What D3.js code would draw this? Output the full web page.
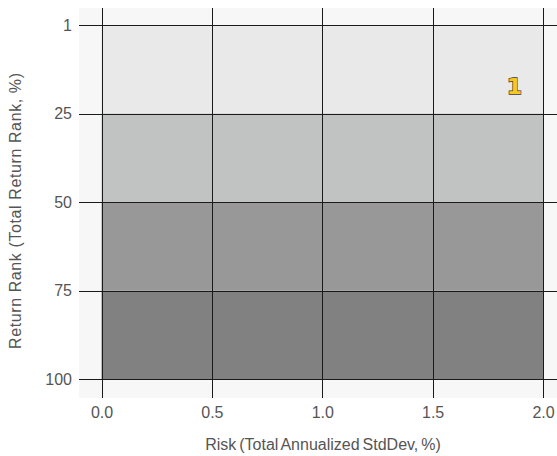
<!DOCTYPE html>
<html><head><meta charset="utf-8">
<script src="https://cdn.jsdelivr.net/npm/d3@7"></script>
<style>
html,body{margin:0;padding:0;background:#fff;}
svg{display:block;font-family:"Liberation Sans",Arial,sans-serif;}
</style></head>
<body>
<svg id="chart" width="557" height="456"></svg>
<script>
// Data
const xTickValues = [0, 0.5, 1.0, 1.5, 2.0];
const xTickLabels = ["0.0", "0.5", "1.0", "1.5", "2.0"];
const yTickValues = [0, 25, 50, 75, 100];
const yTickLabels = ["1", "25", "50", "75", "100"];
const bandStarts = [0, 25, 50, 75];
const bandEnds = [25, 50, 75, 100];
const bandColors = ["#e9e9e9", "#c1c3c2", "#989898", "#808180"];
const pointLabels = ["1"];
const pointRisk = [1.87];
const pointRank = [17.5];

const svg = d3.select("#chart");
const plotLeft = 79, plotTop = 8, plotBottom = 398, plotRight = 557;
const FONT = "'Liberation Sans', Arial, sans-serif";

const x = d3.scaleLinear().domain([0, 2]).range([101.5, 543]);
const y = d3.scaleLinear().domain([0, 100]).range([25, 379]);

// background
svg.append("rect").attr("x", plotLeft).attr("y", plotTop)
  .attr("width", plotRight - plotLeft).attr("height", plotBottom - plotTop)
  .attr("fill", "#f7f7f7");

// bands
svg.append("g").selectAll("rect").data(bandStarts).join("rect")
  .attr("x", x(0)).attr("width", x(2) - x(0))
  .attr("y", (d) => y(d)).attr("height", (d, i) => y(bandEnds[i]) - y(d))
  .attr("fill", (d, i) => bandColors[i]);

// x axis with grid
const xAxis = d3.axisBottom(x).tickValues(xTickValues)
  .tickFormat((d, i) => xTickLabels[i])
  .tickSize(-(plotBottom - plotTop)).tickPadding(8.5);
const gx = svg.append("g").attr("transform", `translate(0,${plotBottom})`).call(xAxis);
gx.select(".domain").remove();
gx.selectAll("line").attr("stroke", "#1a1a1a").attr("shape-rendering", "crispEdges");
gx.selectAll("text").attr("fill", "#555").attr("font-size", 16).attr("font-family", FONT);

// y axis with grid
const yAxis = d3.axisLeft(y).tickValues(yTickValues)
  .tickFormat((d, i) => yTickLabels[i])
  .tickSize(-(plotRight - plotLeft)).tickPadding(7);
const gy = svg.append("g").attr("transform", `translate(${plotLeft},0)`).call(yAxis);
gy.select(".domain").remove();
gy.selectAll("line").attr("stroke", "#1a1a1a").attr("shape-rendering", "crispEdges");
gy.selectAll("text").attr("fill", "#555").attr("font-size", 16).attr("font-family", FONT);

// axis titles
svg.append("text").attr("x", 323).attr("y", 450)
  .attr("text-anchor", "middle").attr("font-size", 16).attr("fill", "#555")
  .attr("font-family", FONT).attr("word-spacing", -1.5)
  .text("Risk (Total Annualized StdDev, %)");
svg.append("text").attr("transform", "translate(21,211) rotate(-90)")
  .attr("text-anchor", "middle").attr("font-size", 16).attr("fill", "#555")
  .attr("font-family", FONT)
  .attr("textLength", 276).attr("lengthAdjust", "spacing")
  .text("Return Rank (Total Return Rank, %)");

// points
svg.append("g").selectAll("text").data(pointLabels).join("text")
  .attr("x", (d, i) => x(pointRisk[i])).attr("y", (d, i) => y(pointRank[i]))
  .attr("text-anchor", "middle").attr("dominant-baseline", "central")
  .attr("font-family", "DejaVu Sans, sans-serif").attr("font-weight", "bold")
  .attr("font-size", 22).attr("fill", "#f7c81e")
  .attr("stroke", "#3a3a3a").attr("stroke-width", 1.3).attr("paint-order", "stroke")
  .text((d) => d);
</script>
</body></html>
